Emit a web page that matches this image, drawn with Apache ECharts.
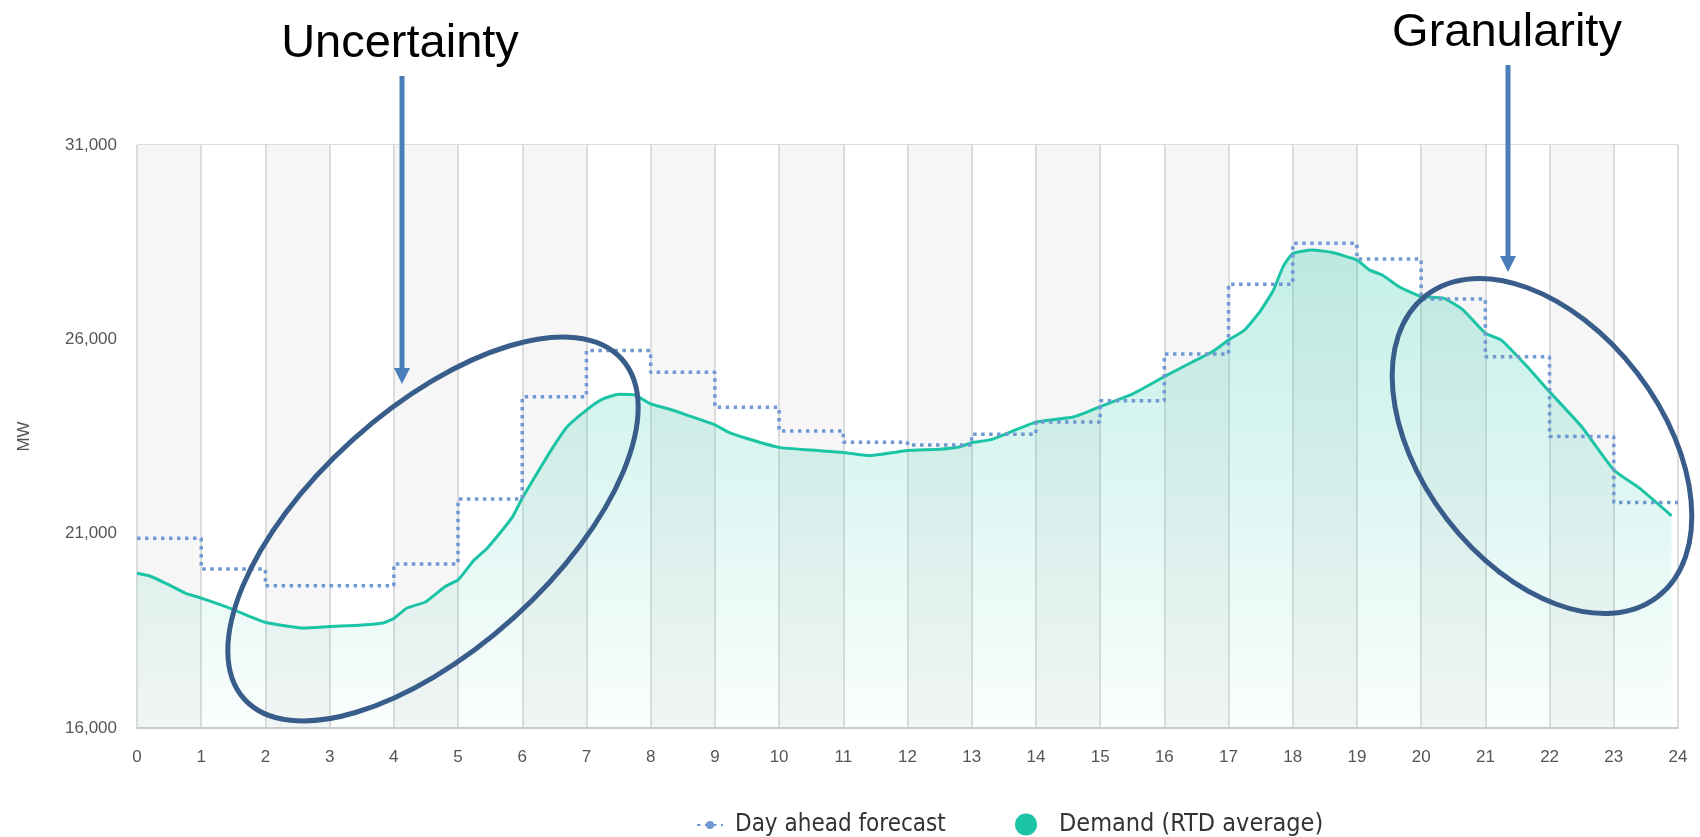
<!DOCTYPE html>
<html>
<head>
<meta charset="utf-8">
<script src="https://cdn.jsdelivr.net/npm/echarts@6/dist/echarts.min.js"></script>
<style>
  html, body { margin: 0; padding: 0; background: #fff; }
  #chart { width: 1700px; height: 837px; }
</style>
</head>
<body>
<div id="chart"></div>
<script>
// day ahead forecast, one value per hour (last one repeated so the step reaches 24)
const forecastHours = [0, 1, 2, 3, 4, 5, 6, 7, 8, 9, 10, 11, 12, 13, 14, 15, 16, 17, 18, 19, 20, 21, 22, 23, 24];
const forecastMW = [20880, 20090, 19660, 19660, 20220, 21890, 24520, 25710, 25150, 24250, 23640, 23350,
  23280, 23560, 23870, 24420, 25620, 27420, 28470, 28070, 27040, 25550, 23500, 21800, 21800];

// demand (RTD average)
const demandHours = [0, 0.2, 0.5, 0.75, 1, 1.45, 2, 2.6, 3, 3.5, 3.85, 4, 4.2, 4.5, 4.8, 5, 5.25, 5.45, 5.65, 5.85,
  6, 6.2, 6.45, 6.7, 7, 7.25, 7.5, 7.75, 8, 8.3, 8.6, 9, 9.2, 9.5, 10, 10.5, 11, 11.4, 12, 12.5, 12.8, 13, 13.3,
  14, 14.6, 15, 15.5, 16, 16.45, 16.75, 17, 17.25, 17.5, 17.7, 17.85, 18, 18.3, 18.6, 19, 19.2, 19.4, 19.65,
  20, 20.35, 20.65, 21, 21.25, 21.65, 22, 22.5, 23, 23.4, 23.9];
const demandMW = [19980, 19910, 19680, 19470, 19340, 19080, 18720, 18570, 18610, 18650, 18710, 18820, 19080, 19250, 19640, 19810, 20320, 20620, 21010, 21440,
  21910, 22470, 23150, 23750, 24180, 24460, 24590, 24570, 24340, 24200, 24030, 23800, 23620, 23450, 23220, 23150, 23090, 23010, 23140, 23170, 23230, 23340, 23420,
  23870, 24010, 24270, 24590, 25040, 25430, 25680, 25980, 26240, 26740, 27270, 27870, 28210, 28300, 28240, 28040, 27780, 27650, 27360,
  27100, 27060, 26760, 26160, 25980, 25300, 24650, 23750, 22640, 22170, 21460];

const yTicks = [16000, 21000, 26000, 31000];

const axisFont = "'Liberation Sans', Arial, sans-serif";
const legendFont = "'DejaVu Sans Condensed', 'DejaVu Sans', sans-serif";
const noteFont = "'Liberation Sans', Arial, sans-serif";
const noteBlue = '#4a7ebb';
const ringBlue = '#385d8a';

const chart = echarts.init(document.getElementById('chart'));

const option = {
  animation: false,
  backgroundColor: '#fff',
  grid: { left: 137, right: 22, top: 145, bottom: 109 },
  legend: [{
    data: ['Day ahead forecast'],
    left: 691,
    top: 808,
    itemWidth: 26,
    itemHeight: 10,
    textStyle: { fontFamily: legendFont, fontSize: 24, color: '#333', padding: [0, 0, 0, 7] }
  }, {
    data: [{ name: 'Demand (RTD average)', icon: 'circle' }],
    left: 1010,
    top: 807,
    itemWidth: 22,
    itemHeight: 22,
    textStyle: { fontFamily: legendFont, fontSize: 25, color: '#333', padding: [0, 0, 0, 17] }
  }],
  xAxis: {
    type: 'value',
    min: 0,
    max: 24,
    interval: 1,
    axisLine: { show: true, lineStyle: { color: '#cccccc', width: 2 } },
    axisTick: { show: false },
    axisLabel: { color: '#555', fontFamily: axisFont, fontSize: 17, margin: 21 },
    splitLine: { show: true, lineStyle: { color: '#dcdcdc', width: 2 } },
    splitArea: { show: true, areaStyle: { color: ['#f6f6f6', '#ffffff'] } }
  },
  yAxis: {
    type: 'value',
    min: yTicks[0],
    max: yTicks[yTicks.length - 1],
    interval: 5000,
    name: 'MW',
    nameLocation: 'middle',
    nameGap: 104,
    nameTextStyle: { color: '#555', fontFamily: axisFont, fontSize: 17 },
    axisLine: { show: false },
    axisTick: { show: false },
    axisLabel: {
      color: '#555', fontFamily: axisFont, fontSize: 17, margin: 20,
      formatter: function (v) { return v.toLocaleString('en-US'); }
    },
    splitLine: { show: true, lineStyle: { color: '#dcdcdc', width: 2 } }
  },
  series: [{
    name: 'Day ahead forecast',
    type: 'line',
    step: 'end',
    symbol: 'circle',
    showSymbol: false,
    itemStyle: { color: '#7099d2' },
    lineStyle: { color: '#7099d2', width: 3.5, type: [3.5, 4.5] },
    data: forecastHours.map(function (h, i) { return [h, forecastMW[i]]; }),
    z: 3
  }, {
    name: 'Demand (RTD average)',
    type: 'line',
    smooth: 0.15,
    symbol: 'circle',
    showSymbol: false,
    itemStyle: { color: '#1cc4a6' },
    lineStyle: { color: '#1cc4a6', width: 3 },
    areaStyle: {
      color: new echarts.graphic.LinearGradient(0, 0, 0, 1, [
        { offset: 0, color: 'rgba(28,196,166,0.38)' },
        { offset: 1, color: 'rgba(28,196,166,0.03)' }
      ])
    },
    data: demandHours.map(function (h, i) { return [h, demandMW[i]]; }),
    z: 2
  }],
  graphic: [
    // annotations on top of the chart
    { type: 'text', z: 100, x: 400, y: 44,
      style: { text: 'Uncertainty', font: '47px ' + noteFont, fill: '#000', align: 'center', verticalAlign: 'middle' } },
    { type: 'text', z: 100, x: 1507, y: 33,
      style: { text: 'Granularity', font: '47px ' + noteFont, fill: '#000', align: 'center', verticalAlign: 'middle' } },
    { type: 'line', z: 100, shape: { x1: 402, y1: 76, x2: 402, y2: 370 },
      style: { stroke: noteBlue, lineWidth: 5 } },
    { type: 'polygon', z: 100, shape: { points: [[394, 368], [410, 368], [402, 384]] },
      style: { fill: noteBlue } },
    { type: 'line', z: 100, shape: { x1: 1508, y1: 65, x2: 1508, y2: 258 },
      style: { stroke: noteBlue, lineWidth: 5 } },
    { type: 'polygon', z: 100, shape: { points: [[1500, 256], [1516, 256], [1508, 272]] },
      style: { fill: noteBlue } },
    { type: 'ellipse', z: 100, x: 433, y: 529, rotation: 42 * Math.PI / 180,
      shape: { cx: 0, cy: 0, rx: 254, ry: 120 },
      style: { fill: null, stroke: ringBlue, lineWidth: 5 } },
    { type: 'ellipse', z: 100, x: 1542, y: 446, rotation: -52.5 * Math.PI / 180,
      shape: { cx: 0, cy: 0, rx: 190, ry: 120 },
      style: { fill: null, stroke: ringBlue, lineWidth: 5 } }
  ]
};

chart.setOption(option);
</script>
</body>
</html>
